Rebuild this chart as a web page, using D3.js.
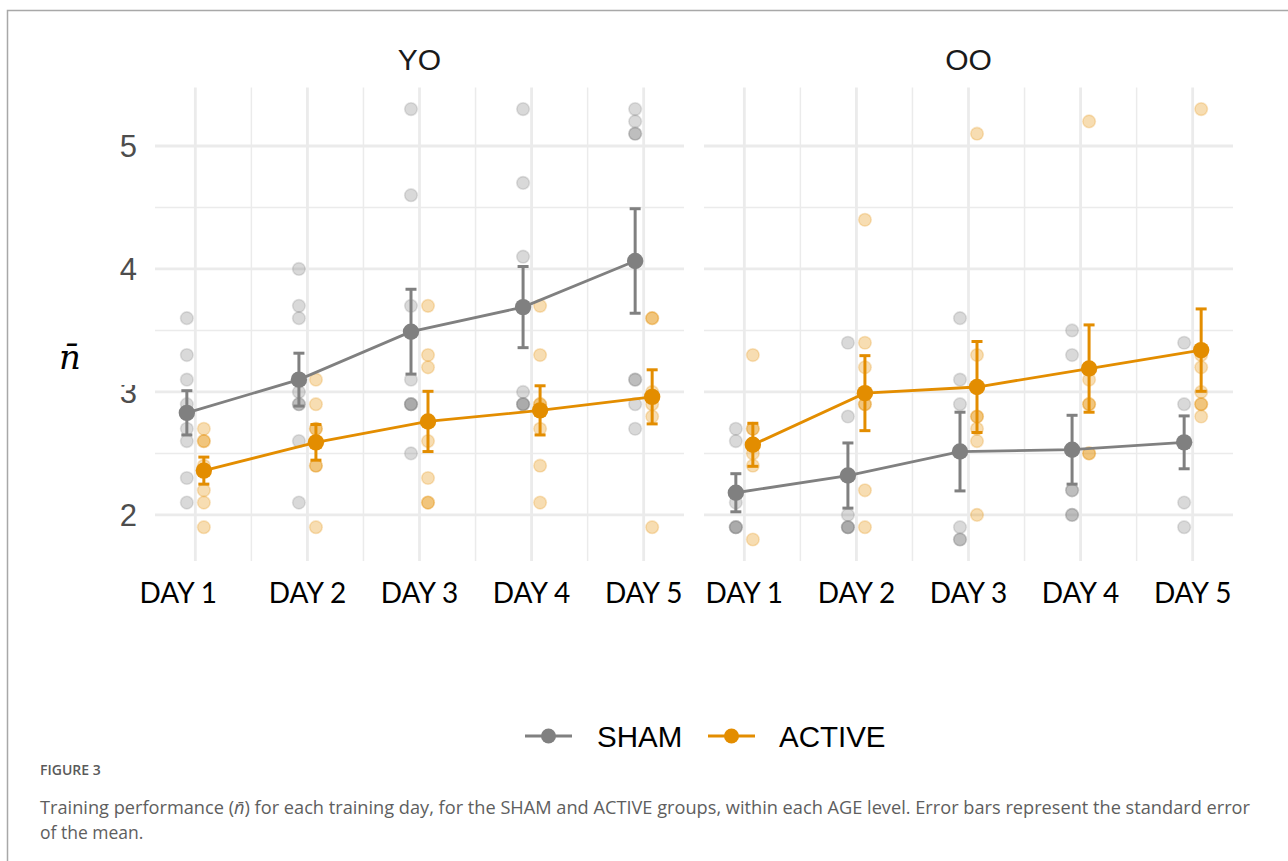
<!DOCTYPE html>
<html>
<head>
<meta charset="utf-8">
<script src="https://cdn.jsdelivr.net/npm/d3@7"></script>
<style>
  body { margin: 0; background: #fff; }
  svg { display: block; }
</style>
</head>
<body>
<div id="chart"></div>
<script>
const days = ["DAY 1", "DAY 2", "DAY 3", "DAY 4", "DAY 5"];
const groups = ["SHAM", "ACTIVE"];
const ages = ["YO", "OO"];
const yTicks = [2, 3, 4, 5];

// means and standard errors per day
const yoShamMean = [2.83, 3.10, 3.49, 3.69, 4.065];
const yoShamSe = [0.18, 0.215, 0.345, 0.33, 0.425];
const yoActiveMean = [2.36, 2.59, 2.76, 2.85, 2.96];
const yoActiveSe = [0.11, 0.145, 0.245, 0.20, 0.22];
const ooShamMean = [2.18, 2.32, 2.515, 2.53, 2.59];
const ooShamSe = [0.155, 0.265, 0.32, 0.28, 0.215];
const ooActiveMean = [2.57, 2.99, 3.04, 3.19, 3.34];
const ooActiveSe = [0.175, 0.305, 0.37, 0.355, 0.335];

// individual subject values per day
const yoShamRaw = [
  [3.6, 3.3, 3.1, 2.9, 2.7, 2.6, 2.3, 2.1],
  [4.0, 3.7, 3.6, 3.0, 2.9, 2.9, 2.6, 2.1],
  [5.3, 4.6, 3.7, 3.1, 2.9, 2.9, 2.9, 2.5],
  [5.3, 4.7, 4.1, 3.0, 2.9, 2.9, 2.9],
  [5.3, 5.2, 5.1, 5.1, 3.1, 3.1, 2.9, 2.7]
];
const yoActiveRaw = [
  [2.7, 2.6, 2.6, 2.4, 2.2, 2.1, 1.9],
  [3.1, 2.9, 2.7, 2.7, 2.4, 2.4, 1.9],
  [3.7, 3.3, 3.2, 2.6, 2.3, 2.1, 2.1],
  [3.7, 3.3, 2.9, 2.9, 2.7, 2.4, 2.1],
  [3.6, 3.6, 3.0, 2.9, 2.8, 1.9]
];
const ooShamRaw = [
  [2.7, 2.6, 2.1, 1.9, 1.9, 1.9],
  [3.4, 2.8, 2.0, 1.9, 1.9, 1.9],
  [3.6, 3.1, 2.9, 1.9, 1.8, 1.8],
  [3.5, 3.3, 2.2, 2.2, 2.0, 2.0],
  [3.4, 2.9, 2.1, 1.9]
];
const ooActiveRaw = [
  [3.3, 2.7, 2.7, 2.5, 2.4, 1.8],
  [4.4, 3.4, 3.2, 2.9, 2.9, 2.2, 1.9],
  [5.1, 3.3, 2.8, 2.8, 2.7, 2.6, 2.0],
  [5.2, 3.1, 2.9, 2.9, 2.5, 2.5],
  [5.3, 3.3, 3.2, 3.0, 2.9, 2.9, 2.8]
];

const panels = [
  { age: "YO", series: [
    { group: "SHAM", mean: yoShamMean, se: yoShamSe, raw: yoShamRaw },
    { group: "ACTIVE", mean: yoActiveMean, se: yoActiveSe, raw: yoActiveRaw }
  ] },
  { age: "OO", series: [
    { group: "SHAM", mean: ooShamMean, se: ooShamSe, raw: ooShamRaw },
    { group: "ACTIVE", mean: ooActiveMean, se: ooActiveSe, raw: ooActiveRaw }
  ] }
];

const width = 1288, height = 861;
const panelLeft = [155, 704], panelWidth = 529;
const panelTop = 87.6, panelBottom = 561;
const dodge = 8.5;

const color = d3.scaleOrdinal().domain(groups).range(["#808080", "#E38D00"]);
const offset = d3.scaleOrdinal().domain(groups).range([-dodge, dodge]);
const y = d3.scaleLinear().domain([1.625, 5.475]).range([panelBottom, panelTop]);
const x = d3.scalePoint().domain(days).range([0, panelWidth]).padding(0.36);

const svg = d3.select("#chart").append("svg")
  .attr("width", width)
  .attr("height", height);

svg.append("rect").attr("width", width).attr("height", height).attr("fill", "#fff");

// figure frame
svg.append("path")
  .attr("d", `M7.5,${height} V10.5 H${width}`)
  .attr("fill", "none")
  .attr("stroke", "#a8a8a8")
  .attr("stroke-width", 1.5);

panels.forEach((p, i) => {
  const g = svg.append("g").attr("transform", `translate(${panelLeft[i]},0)`);

  // grid
  const minorY = d3.range(1.5, 5.5, 1).filter(v => y(v) > panelTop && y(v) < panelBottom);
  g.selectAll(".minorY").data(minorY).enter().append("line")
    .attr("x1", 0).attr("x2", panelWidth)
    .attr("y1", d => y(d)).attr("y2", d => y(d))
    .attr("stroke", "#ebebeb").attr("stroke-width", 1.5);
  const minorX = days.slice(1).map((d, k) => (x(days[k]) + x(d)) / 2);
  g.selectAll(".minorX").data(minorX).enter().append("line")
    .attr("x1", d => d).attr("x2", d => d)
    .attr("y1", panelTop).attr("y2", panelBottom)
    .attr("stroke", "#ebebeb").attr("stroke-width", 1.5);
  g.selectAll(".majorY").data(yTicks).enter().append("line")
    .attr("x1", 0).attr("x2", panelWidth)
    .attr("y1", d => y(d)).attr("y2", d => y(d))
    .attr("stroke", "#ebebeb").attr("stroke-width", 2.8);
  g.selectAll(".majorX").data(days).enter().append("line")
    .attr("x1", d => x(d)).attr("x2", d => x(d))
    .attr("y1", panelTop).attr("y2", panelBottom)
    .attr("stroke", "#ebebeb").attr("stroke-width", 2.8);

  // panel title
  g.append("text")
    .attr("x", panelWidth / 2).attr("y", 70)
    .attr("text-anchor", "middle")
    .style("font-family", "Liberation Sans, Arial, sans-serif")
    .style("font-size", "30px")
    .attr("fill", "#1a1a1a")
    .text(p.age);

  // x tick labels (the first one in the left panel sits a bit to the left in the original)
  g.selectAll(".xlab").data(days).enter().append("text")
    .attr("x", (d, k) => x(d) - (i === 0 && k === 0 ? 17 : 0)).attr("y", 603)
    .attr("text-anchor", "middle")
    .style("font-family", "Lato, sans-serif")
    .style("font-size", "28px")
    .attr("fill", "#000")
    .text(d => d);

  // raw points
  p.series.forEach(s => {
    const pts = [];
    s.raw.forEach((vals, k) => vals.forEach(v => pts.push({ day: days[k], v: v })));
    g.selectAll(null).data(pts).enter().append("circle")
      .attr("cx", d => x(d.day) + offset(s.group))
      .attr("cy", d => y(d.v))
      .attr("r", 6.3)
      .attr("fill", color(s.group)).attr("fill-opacity", 0.3)
      .attr("stroke", color(s.group)).attr("stroke-opacity", 0.22)
      .attr("stroke-width", 1.6);
  });

  // mean lines, error bars and points
  p.series.forEach(s => {
    const c = color(s.group);
    const pts = days.map((d, k) => ({ day: d, m: s.mean[k], se: s.se[k] }));
    const cx = d => x(d.day) + offset(s.group);

    g.append("path").datum(pts)
      .attr("d", d3.line().x(cx).y(d => y(d.m)))
      .attr("fill", "none").attr("stroke", c).attr("stroke-width", 2.8);

    const eb = g.selectAll(null).data(pts).enter().append("g");
    eb.append("line")
      .attr("x1", cx).attr("x2", cx)
      .attr("y1", d => y(d.m - d.se)).attr("y2", d => y(d.m + d.se))
      .attr("stroke", c).attr("stroke-width", 3);
    [-1, 1].forEach(sign => {
      eb.append("line")
        .attr("x1", d => cx(d) - 5.5).attr("x2", d => cx(d) + 5.5)
        .attr("y1", d => y(d.m + sign * d.se)).attr("y2", d => y(d.m + sign * d.se))
        .attr("stroke", c).attr("stroke-width", 3);
    });
    eb.append("circle")
      .attr("cx", cx).attr("cy", d => y(d.m))
      .attr("r", 8.2).attr("fill", c);
  });
});

// y axis labels
svg.selectAll(".ylab").data(yTicks).enter().append("text")
  .attr("x", 137).attr("y", d => y(d))
  .attr("dy", "0.36em")
  .attr("text-anchor", "end")
  .style("font-family", "Liberation Sans, Arial, sans-serif")
  .style("font-size", "31px")
  .attr("fill", "#4d4d4d")
  .text(d => d);

// y axis title, its white box clips the top of the "3"
svg.append("rect")
  .attr("x", 45).attr("y", 325).attr("width", 96).attr("height", 60)
  .attr("fill", "#fff");
svg.append("text")
  .attr("x", 70).attr("y", 369)
  .attr("text-anchor", "middle")
  .style("font-family", "DejaVu Serif, serif")
  .style("font-style", "italic")
  .style("font-size", "34px")
  .attr("fill", "#000")
  .text("n\u0304");

// legend
const legend = svg.append("g").attr("transform", "translate(0,736)");
const legendX = [{ group: "SHAM", x0: 525, tx: 597 }, { group: "ACTIVE", x0: 708, tx: 779 }];
legendX.forEach(l => {
  legend.append("line")
    .attr("x1", l.x0).attr("x2", l.x0 + 47)
    .attr("stroke", color(l.group)).attr("stroke-width", 3);
  legend.append("circle")
    .attr("cx", l.x0 + 23.5).attr("r", 7.5).attr("fill", color(l.group));
  legend.append("text")
    .attr("x", l.tx).attr("dy", "0.36em")
    .style("font-family", "Liberation Sans, Arial, sans-serif")
    .style("font-size", "29.5px")
    .attr("fill", "#000")
    .text(l.group);
});

// caption
svg.append("text")
  .attr("x", 40).attr("y", 775)
  .style("font-family", "Open Sans, sans-serif")
  .style("font-size", "14px")
  .style("font-weight", 600)
  .attr("fill", "#5a5a5a")
  .text("FIGURE 3");

const cap1 = svg.append("text")
  .attr("x", 40).attr("y", 814)
  .attr("textLength", 1210).attr("lengthAdjust", "spacingAndGlyphs")
  .style("font-family", "Open Sans, sans-serif")
  .style("font-size", "17.5px")
  .attr("fill", "#5e5e5e");
cap1.append("tspan").text("Training performance (");
cap1.append("tspan").style("font-style", "italic").text("n\u0304");
cap1.append("tspan").text(") for each training day, for the SHAM and ACTIVE groups, within each AGE level. Error bars represent the standard error");

svg.append("text")
  .attr("x", 40).attr("y", 839)
  .style("font-family", "Open Sans, sans-serif")
  .style("font-size", "17.5px")
  .attr("fill", "#5e5e5e")
  .text("of the mean.");
</script>
</body>
</html>
